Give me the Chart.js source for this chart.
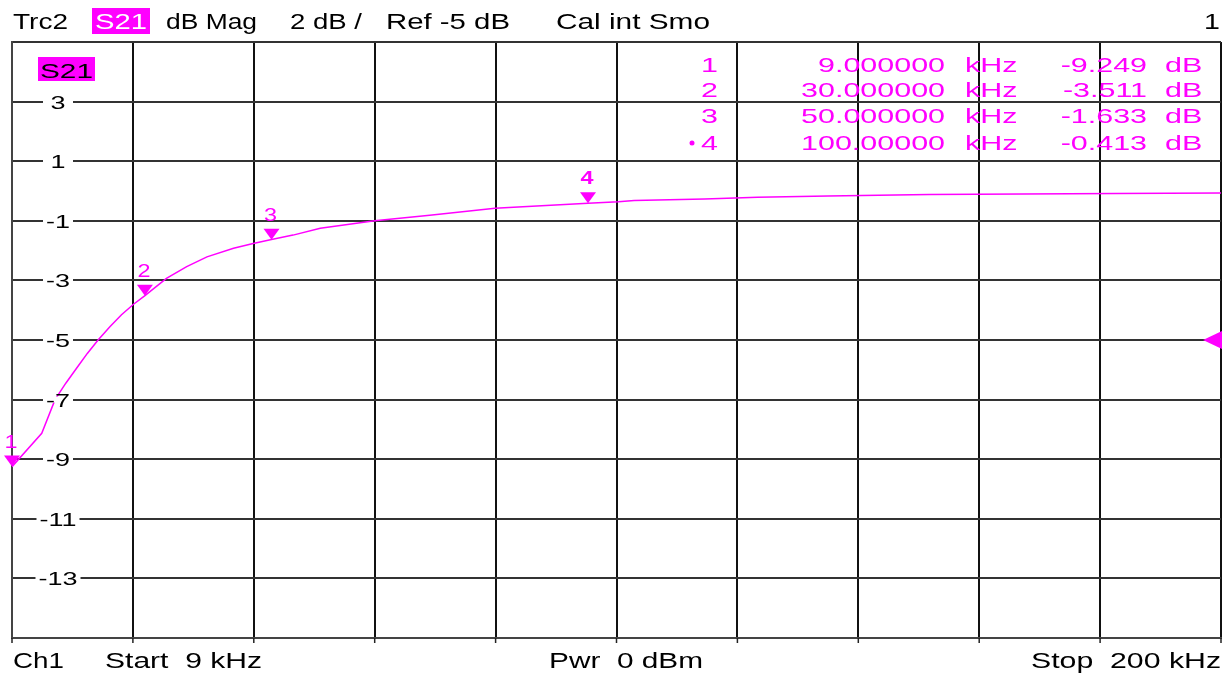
<!DOCTYPE html>
<html>
<head>
<meta charset="utf-8">
<script src="https://cdn.jsdelivr.net/npm/chart.js@4"></script>
<style>
  html, body { margin: 0; padding: 0; background: #fff; }
  canvas { display: block; }
</style>
</head>
<body>
<canvas id="c" width="1231" height="673"></canvas>
<script>
// ---- data ----
const freqKHz = [9, 13.7, 15.8, 17.5, 19.2, 20.9, 22.6, 24.5, 26.3, 28.2, 30, 33.4, 36.6, 39.8, 44.0, 47.1, 50, 53.4, 57.7, 66.3, 75, 85.3, 100, 104.8, 107.3, 118.4, 126.8, 137.9, 153.9, 183.4, 200];
const s21dB   = [-9.25, -8.13, -7.0, -6.45, -5.95, -5.45, -5.0, -4.55, -4.15, -3.8, -3.51, -2.93, -2.54, -2.21, -1.92, -1.76, -1.63, -1.48, -1.25, -1.0, -0.81, -0.58, -0.41, -0.36, -0.32, -0.27, -0.21, -0.17, -0.12, -0.08, -0.07];

const markerNo   = ['1', '2', '3', '4'];
const markerFreq = [9, 30, 50, 100];
const markerDB   = [-9.249, -3.511, -1.633, -0.413];
const markerFreqText = ['9.000000', '30.000000', '50.000000', '100.00000'];
const markerDBText   = ['-9.249', '-3.511', '-1.633', '-0.413'];

const yTickValues = [-15, -13, -11, -9, -7, -5, -3, -1, 1, 3, 5];
const startKHz = 9, stopKHz = 200, xDivisions = 10;
const refLevel = -5;

const MAG = '#ff00ff';
const FONT = '"Liberation Sans", Arial, sans-serif';

function stretchText(ctx, text, x, y, sx, align) {
  ctx.save();
  const w = ctx.measureText(text).width * sx;
  let left = x;
  if (align === 'right') left = x - w;
  else if (align === 'center') left = x - w / 2;
  ctx.translate(left, y);
  ctx.scale(sx, 1);
  ctx.textAlign = 'left';
  ctx.fillText(text, 0, 0);
  ctx.restore();
  return w;
}
function fitText(ctx, text, x, y, width) {
  const sx = width / ctx.measureText(text).width;
  stretchText(ctx, text, x, y, sx, 'left');
}

const overlay = {
  id: 'overlay',
  afterDraw(chart) {
    const { ctx, chartArea: a, scales: { x, y } } = chart;
    ctx.save();
    ctx.textBaseline = 'alphabetic';

    // bottom tick marks
    ctx.strokeStyle = '#222';
    ctx.lineWidth = 1.5;
    x.ticks.forEach(t => {
      const px = x.getPixelForValue(t.value);
      ctx.beginPath(); ctx.moveTo(px, a.bottom); ctx.lineTo(px, a.bottom + 5); ctx.stroke();
    });

    // y tick labels inside the grid with white gap
    ctx.font = '18px ' + FONT;
    yTickValues.forEach(v => {
      if (v <= y.min || v >= y.max) return;
      const py = y.getPixelForValue(v);
      const label = String(v);
      const w = ctx.measureText(label).width * 1.5;
      const half = Math.max(15, w / 2 + 3);
      ctx.fillStyle = '#fff';
      ctx.fillRect(58 - half, py - 3, half * 2, 6);
      ctx.fillStyle = '#000';
      stretchText(ctx, label, 58, py + 7, 1.5, 'center');
    });

    // S21 trace label inside plot
    ctx.fillStyle = MAG;
    ctx.fillRect(38, 57, 57, 24);
    ctx.fillStyle = '#000';
    ctx.font = '21px ' + FONT;
    fitText(ctx, 'S21', 40, 78, 53);

    // header
    ctx.font = '22px ' + FONT;
    ctx.fillStyle = '#000';
    fitText(ctx, 'Trc2', 13, 29, 55);
    ctx.fillStyle = MAG;
    ctx.fillRect(92, 8, 58, 26);
    ctx.fillStyle = '#fff';
    fitText(ctx, 'S21', 95, 29, 52);
    ctx.fillStyle = '#000';
    fitText(ctx, 'dB Mag', 166, 29, 91);
    fitText(ctx, '2 dB /', 290, 29, 72);
    fitText(ctx, 'Ref -5 dB', 386, 29, 124);
    fitText(ctx, 'Cal int Smo', 556, 29, 154);
    stretchText(ctx, '1', 1220, 29, 1.3, 'right');

    // footer
    fitText(ctx, 'Ch1', 13, 668, 51);
    fitText(ctx, 'Start  9 kHz', 105, 668, 157);
    fitText(ctx, 'Pwr  0 dBm', 549, 668, 154);
    fitText(ctx, 'Stop  200 kHz', 1031, 668, 190);

    // marker table
    ctx.font = '21px ' + FONT;
    ctx.fillStyle = MAG;
    const rowY = [72, 97, 123, 150];
    const sx = 1.45;
    markerNo.forEach((n, i) => {
      const by = rowY[i];
      stretchText(ctx, n, 718, by, sx, 'right');
      stretchText(ctx, markerFreqText[i], 945, by, sx, 'right');
      stretchText(ctx, 'kHz', 965, by, sx, 'left');
      stretchText(ctx, markerDBText[i], 1147, by, sx, 'right');
      stretchText(ctx, 'dB', 1165, by, sx, 'left');
    });
    ctx.beginPath(); ctx.arc(692, rowY[3] - 7, 2.5, 0, Math.PI * 2); ctx.fill();

    // markers on trace
    markerFreq.forEach((f, i) => {
      const px = x.getPixelForValue(f);
      const py = y.getPixelForValue(markerDB[i]);
      ctx.fillStyle = MAG;
      ctx.beginPath();
      ctx.moveTo(px, py);
      ctx.lineTo(px - 8, py - 11);
      ctx.lineTo(px + 8, py - 11);
      ctx.closePath();
      ctx.fill();
      ctx.font = (i === 3 ? 'bold ' : '') + '18px ' + FONT;
      stretchText(ctx, markerNo[i], px - 1, py - 19, 1.3, 'center');
    });

    // reference level arrow on right edge
    const ry = y.getPixelForValue(refLevel);
    ctx.fillStyle = MAG;
    ctx.beginPath();
    ctx.moveTo(a.right - 18, ry);
    ctx.lineTo(a.right + 1, ry - 9);
    ctx.lineTo(a.right + 1, ry + 9);
    ctx.closePath();
    ctx.fill();

    ctx.restore();
  }
};

new Chart(document.getElementById('c'), {
  type: 'line',
  data: {
    datasets: [{
      data: freqKHz.map((f, i) => ({ x: f, y: s21dB[i] })),
      borderColor: MAG,
      borderWidth: 1.5,
      pointRadius: 0,
      tension: 0,
      fill: false
    }]
  },
  options: {
    responsive: false,
    devicePixelRatio: 1,
    animation: false,
    events: [],
    layout: { padding: { left: 12, right: 10, top: 42, bottom: 35 } },
    plugins: { legend: { display: false }, tooltip: { enabled: false } },
    scales: {
      x: {
        type: 'linear',
        min: startKHz,
        max: stopKHz,
        afterBuildTicks: s => {
          const step = (stopKHz - startKHz) / xDivisions;
          s.ticks = Array.from({ length: xDivisions + 1 }, (_, i) => ({ value: startKHz + i * step }));
        },
        ticks: { display: false },
        grid: { color: '#111', lineWidth: 2, drawTicks: false },
        border: { display: true, color: '#444', width: 2 }
      },
      y: {
        type: 'linear',
        min: -15,
        max: 5,
        afterBuildTicks: s => { s.ticks = yTickValues.map(v => ({ value: v })); },
        ticks: { display: false },
        grid: { color: '#333', lineWidth: 2, drawTicks: false },
        border: { display: true, color: '#444', width: 2 }
      }
    }
  },
  plugins: [overlay]
});
</script>
</body>
</html>
